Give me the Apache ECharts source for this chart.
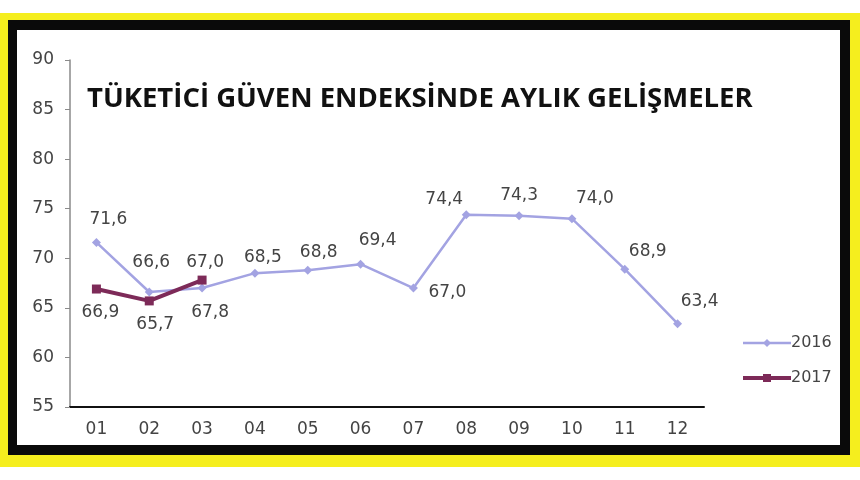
<!DOCTYPE html>
<html>
<head>
<meta charset="utf-8">
<script src="https://cdn.jsdelivr.net/npm/echarts@6/dist/echarts.min.js"></script>
<style>html,body{margin:0;padding:0;background:#fff}#c{width:860px;height:480px}</style>
</head>
<body>
<div id="c"></div>
<script>
const categories = ['01','02','03','04','05','06','07','08','09','10','11','12'];
const values2016 = [71.6, 66.6, 67.0, 68.5, 68.8, 69.4, 67.0, 74.4, 74.3, 74.0, 68.9, 63.4];
const values2017 = [66.9, 65.7, 67.8];
const yTicks = [55, 60, 65, 70, 75, 80, 85, 90];
const titleText = 'TÜKETİCİ GÜVEN ENDEKSİNDE AYLIK GELİŞMELER';

// label placement (style only)
const off2016 = [[12,-23],[2,-29],[3,-25],[8,-16],[11,-18],[17,-24],[34,5],[-22,-15],[0,-20],[23,-20],[23,-18],[22,-22]];
const off2017 = [[4,24],[6,24],[8,32]];

const fmt = p => Number(p.value).toFixed(1).replace('.', ',');
const lblBase = {show:true, position:'inside', fontFamily:'DejaVu Sans', fontSize:17, color:'#444', formatter: fmt};

const chart = echarts.init(document.getElementById('c'));
chart.setOption({
  animation:false,
  graphic:[
    {type:'rect', z:-10, silent:true, shape:{x:0,y:13,width:860,height:454}, style:{fill:'#f5ee1e'}},
    {type:'rect', z:-9, silent:true, shape:{x:8,y:20,width:842,height:435}, style:{fill:'#0a0a0a'}},
    {type:'rect', z:-8, silent:true, shape:{x:17,y:30,width:823,height:415}, style:{fill:'#ffffff'}}
  ],
  title:{text:titleText, left:82, top:80, textStyle:{fontFamily:'Open Sans', fontWeight:'bold', fontSize:27.5, color:'#111'}},
  legend:{orient:'vertical', left:736, top:330, itemWidth:48, itemHeight:10, itemGap:19,
    textStyle:{fontFamily:'DejaVu Sans', fontSize:16, color:'#444', padding:[0,0,0,-5]},
    data:[{name:'2016', lineStyle:{width:2.5}}, {name:'2017', lineStyle:{width:4}}]},
  grid:{left:70, right:156, top:60, bottom:73, containLabel:false},
  xAxis:{type:'category', data:categories, boundaryGap:true,
    axisLine:{lineStyle:{color:'#111', width:2}},
    axisTick:{alignWithLabel:true, length:4, lineStyle:{color:'#111'}},
    axisLabel:{fontFamily:'DejaVu Sans', fontSize:17, color:'#444', margin:14}},
  yAxis:{type:'value', min:yTicks[0], max:yTicks[yTicks.length-1], interval:5,
    splitLine:{show:false},
    axisLine:{show:true, lineStyle:{color:'#8a8a8a', width:1.5}},
    axisTick:{show:true, length:5, lineStyle:{color:'#8a8a8a'}},
    axisLabel:{fontFamily:'DejaVu Sans', fontSize:17, color:'#444', margin:16}},
  series:[
    {name:'2016', type:'line', z:2,
      data: values2016.map((v,i)=>({value:v, label:Object.assign({}, lblBase, {offset:off2016[i]})})),
      symbol:'diamond', symbolSize:9, lineStyle:{color:'#a3a3e2', width:2.5}, itemStyle:{color:'#a3a3e2'},
      label:lblBase},
    {name:'2017', type:'line', z:3,
      data: values2017.map((v,i)=>({value:v, label:Object.assign({}, lblBase, {offset:off2017[i]})})),
      symbol:'rect', symbolSize:9, lineStyle:{color:'#7d2a58', width:4}, itemStyle:{color:'#7d2a58'},
      label:lblBase}
  ]
});
</script>
</body>
</html>
